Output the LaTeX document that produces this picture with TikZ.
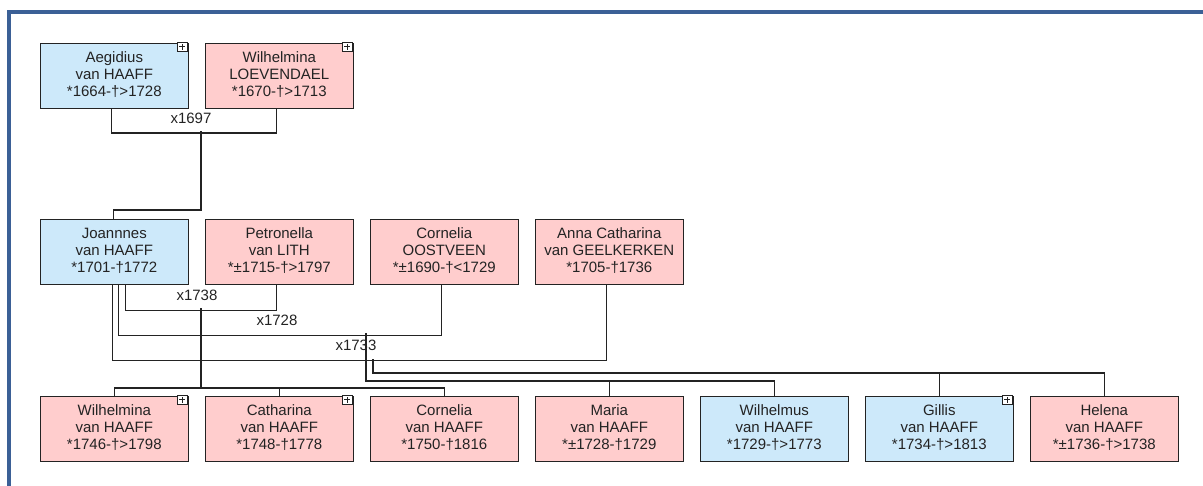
\documentclass[tikz,border=0pt]{standalone}
\usepackage{fontspec}
\setmainfont{Liberation Sans}
\usetikzlibrary{matrix}

\definecolor{male}{RGB}{205,233,250}
\definecolor{fem}{RGB}{255,205,205}
\definecolor{framec}{RGB}{59,96,150}
\definecolor{ink}{RGB}{35,35,35}

\newcommand{\pers}[3]{\begin{tabular}{@{}c@{}}#1\\\relax#2\\\relax#3\end{tabular}}

\tikzset{
  person/.style={draw=ink, line width=1.3pt, minimum width=148pt, minimum height=65pt,
    inner sep=2pt, anchor=center, text=ink, font=\fontsize{15}{17}\selectfont},
  male/.style={fill=male},
  fem/.style={fill=fem},
  wed/.style={inner sep=0pt, text=ink, font=\fontsize{15}{17}\selectfont},
  plusicon/.style={draw=ink, fill=white, line width=0.8pt, minimum size=9.5pt, inner sep=0pt,
    anchor=north east,
    path picture={\draw[line width=1pt]
      ([xshift=-3pt]path picture bounding box.center) -- ([xshift=3pt]path picture bounding box.center)
      ([yshift=-3pt]path picture bounding box.center) -- ([yshift=3pt]path picture bounding box.center);}}
}

\begin{document}
\begin{tikzpicture}[x=1pt, y=-1pt, line width=1.3pt, draw=ink]
\useasboundingbox (0,0) rectangle (1203,485);
\draw[line width=3.5pt, framec] (9,520) -- (9,12) -- (1240,12);

\matrix (m) [matrix of nodes, anchor=north west, inner sep=0pt, nodes={person},
  column sep=15.7pt, row sep=110.2pt] at (39,42) {
|[male]| \pers{Aegidius}{van HAAFF}{*1664-†>1728} &
|[fem]| \pers{Wilhelmina}{LOEVENDAEL}{*1670-†>1713} \\
|[male]| \pers{Joannnes}{van HAAFF}{*1701-†1772} &
|[fem]| \pers{Petronella}{van LITH}{*±1715-†>1797} &
|[fem]| \pers{Cornelia}{OOSTVEEN}{*±1690-†<1729} &
|[fem]| \pers{Anna Catharina}{van GEELKERKEN}{*1705-†1736} \\
|[fem]| \pers{Wilhelmina}{van HAAFF}{*1746-†>1798} &
|[fem]| \pers{Catharina}{van HAAFF}{*1748-†1778} &
|[fem]| \pers{Cornelia}{van HAAFF}{*1750-†1816} &
|[fem]| \pers{Maria}{van HAAFF}{*±1728-†1729} &
|[male]| \pers{Wilhelmus}{van HAAFF}{*1729-†>1773} &
|[male]| \pers{Gillis}{van HAAFF}{*1734-†>1813} &
|[fem]| \pers{Helena}{van HAAFF}{*±1736-†>1738} \\
};

% plus buttons
\foreach \c in {1-1,1-2,3-1,3-2,3-6}
  \node[plusicon] (plus-\c) at ([xshift=-1.5pt,yshift=1pt]m-\c.north east) {};

% marriages
\draw ([xshift=-3pt]m-1-1.south) |- ++(0,24) -| ([xshift=-3pt]m-1-2.south);
\node[wed] (w1697) at (191,118) {x1697};
\draw ([xshift=11pt]m-2-1.south) |- ++(0,25) -| ([xshift=-3pt]m-2-2.south);
\node[wed] (w1738) at (197,295) {x1738};
\draw ([xshift=4pt]m-2-1.south) |- ++(0,50) -| ([xshift=-3pt]m-2-3.south);
\node[wed] (w1728) at (277,320) {x1728};
\draw ([xshift=-2pt]m-2-1.south) |- ++(0,75) -| ([xshift=-3pt]m-2-4.south);
\node[wed] (w1733) at (356,345) {x1733};

% children
\coordinate (k1697) at (201,131);
\coordinate (b1697) at (201,210);
\draw (k1697) -- (b1697) -| ([xshift=-1pt]m-2-1.north);

\coordinate (k1738) at (201,308);
\coordinate (b1738) at (201,388);
\draw (k1738) -- (b1738);
\draw (m-3-1.north) |- (b1738) -| (m-3-3.north);
\draw (m-3-2.north) -- (m-3-2.north |- b1738);

\coordinate (k1728) at (366,333);
\coordinate (b1728) at (366,381);
\draw (k1728) -- (b1728) -| (m-3-5.north);
\draw (m-3-4.north) -- (m-3-4.north |- b1728);

\coordinate (k1733) at (373,359);
\coordinate (b1733) at (373,373);
\draw (k1733) -- (b1733) -| (m-3-7.north);
\draw (m-3-6.north) -- (m-3-6.north |- b1733);
\end{tikzpicture}
\end{document}
